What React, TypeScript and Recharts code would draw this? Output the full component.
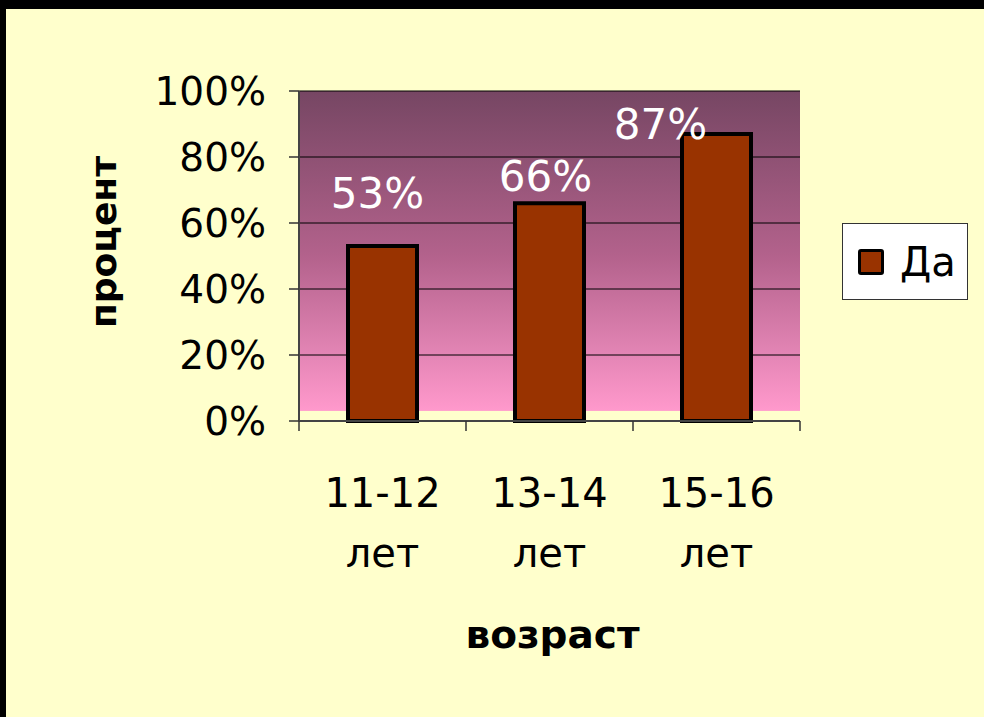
import { Bar, BarChart, CartesianGrid, Label, LabelList, Legend, XAxis, YAxis } from "recharts";

const ageGroups = ["11-12", "13-14", "15-16"];
const ageUnit = "лет";
const yesShare = [0.53, 0.66, 0.87];
const percentTicks = [0, 0.2, 0.4, 0.6, 0.8, 1];
const seriesName = "Да";
const yAxisTitle = "процент";
const xAxisTitle = "возраст";

const data = ageGroups.map((age, i) => ({ age, yes: yesShare[i] }));

const FONT = "'DejaVu Sans', Verdana, sans-serif";
const W = 984;
const H = 717;
const PLOT_LEFT = 299;
const PLOT_RIGHT = 800;
const PLOT_TOP = 91;
const PLOT_BOTTOM = 421;
const X_AXIS_H = 150;
const STEP = (PLOT_RIGHT - PLOT_LEFT) / ageGroups.length;

// Excel put the value labels a bit off, nudge them per bar
const labelDx = [-5, -4, -56];
const labelDy = [-53, -27, -9];

const pct = (v: number) => `${Math.round(v * 100)}%`;

const AgeTick = (props: any) => {
    const { x, y, payload, index } = props;
    const left = x - STEP / 2;
    const right = x + STEP / 2;
    return (
        <g>
            <line x1={left} y1={y} x2={left} y2={y + 10} stroke="#333" strokeWidth={1.5} />
            {index === ageGroups.length - 1 && (
                <line x1={right} y1={y} x2={right} y2={y + 10} stroke="#333" strokeWidth={1.5} />
            )}
            <text x={x} y={y + 86} textAnchor="middle" fontSize={40} fontFamily={FONT} fill="#000">
                {payload.value}
            </text>
            <text x={x} y={y + 146} textAnchor="middle" fontSize={40} fontFamily={FONT} fill="#000">
                {ageUnit}
            </text>
        </g>
    );
};

const ValueLabel = (props: any) => {
    const { x, y, width, value, index } = props;
    return (
        <text
            x={x + width / 2 + labelDx[index]}
            y={y + labelDy[index]}
            textAnchor="middle"
            dominantBaseline="central"
            fontSize={42}
            fontFamily={FONT}
            fill="#fff"
        >
            {pct(value)}
        </text>
    );
};

const LegendBox = () => (
    <div
        style={{
            width: "100%",
            height: "100%",
            boxSizing: "border-box",
            border: "1px solid #333",
            background: "#fff",
            display: "flex",
            alignItems: "center",
            paddingLeft: 15,
            fontFamily: FONT,
            fontSize: 40,
            color: "#000",
        }}
    >
        <div
            style={{
                width: 26,
                height: 26,
                boxSizing: "border-box",
                border: "3px solid #000",
                borderRadius: 3,
                background: "#993300",
                marginRight: 16,
            }}
        />
        <span style={{ lineHeight: 1 }}>{seriesName}</span>
    </div>
);

export default function App() {
    return (
        <div style={{ position: "absolute", left: 0, top: 0, width: W, height: H, background: "#000" }}>
            <div style={{ position: "absolute", left: 6, top: 9, right: 0, bottom: 0, background: "#FFFFCC" }} />
            <div style={{ position: "absolute", left: 0, top: 0 }}>
                <BarChart
                    width={W}
                    height={H}
                    data={data}
                    margin={{ top: PLOT_TOP, right: W - PLOT_RIGHT, bottom: H - PLOT_BOTTOM - X_AXIS_H, left: 0 }}
                >
                    <defs>
                        <linearGradient id="plotBg" x1="0" y1="0" x2="0" y2="1">
                            <stop offset="0" stopColor="#764663" />
                            <stop offset="0.5" stopColor="#B3628C" />
                            <stop offset="0.968" stopColor="#FF99CC" />
                            <stop offset="0.97" stopColor="#FFFFCC" />
                            <stop offset="1" stopColor="#FFFFCC" />
                        </linearGradient>
                    </defs>
                    <CartesianGrid vertical={false} stroke="#000" strokeWidth={1} fill="url(#plotBg)" fillOpacity={1} />
                    <XAxis
                        dataKey="age"
                        height={X_AXIS_H}
                        tickLine={false}
                        tickSize={0}
                        tickMargin={0}
                        axisLine={{ stroke: "#444", strokeWidth: 2 }}
                        tick={<AgeTick />}
                        interval={0}
                    >
                        <Label
                            content={({ viewBox }: any) => (
                                <text
                                    x={viewBox.x + viewBox.width / 2 + 3}
                                    y={viewBox.y + 227}
                                    textAnchor="middle"
                                    fontSize={39}
                                    fontWeight="bold"
                                    fontFamily={FONT}
                                    fill="#000"
                                >
                                    {xAxisTitle}
                                </text>
                            )}
                        />
                    </XAxis>
                    <XAxis xAxisId="top" orientation="top" height={0} tick={false} tickLine={false} axisLine={{ stroke: "#888", strokeWidth: 3 }} />
                    <YAxis
                        width={PLOT_LEFT}
                        domain={[0, 1]}
                        ticks={percentTicks}
                        tickFormatter={pct}
                        tickSize={10}
                        tickMargin={23}
                        interval={0}
                        axisLine={{ stroke: "#444", strokeWidth: 2 }}
                        tickLine={{ stroke: "#333", strokeWidth: 1.5 }}
                        tick={{ fontSize: 39, fontFamily: FONT, fill: "#000" }}
                    >
                        <Label
                            content={({ viewBox }: any) => {
                                const cx = viewBox.x + 103;
                                const cy = viewBox.y + viewBox.height / 2 - 14;
                                return (
                                    <text
                                        x={cx}
                                        y={cy}
                                        transform={`rotate(-90 ${cx} ${cy})`}
                                        textAnchor="middle"
                                        dominantBaseline="central"
                                        fontSize={36}
                                        fontWeight="bold"
                                        fontFamily={FONT}
                                        fill="#000"
                                    >
                                        {yAxisTitle}
                                    </text>
                                );
                            }}
                        />
                    </YAxis>
                    <YAxis yAxisId="right" orientation="right" width={0} domain={[0, 1]} tick={false} tickLine={false} axisLine={{ stroke: "#888", strokeWidth: 3 }} />
                    <Legend
                        layout="vertical"
                        align="center"
                        verticalAlign="middle"
                        wrapperStyle={{ left: 842, top: 223, width: 126, height: 77 }}
                        content={() => <LegendBox />}
                    />
                    <Bar dataKey="yes" name={seriesName} fill="#993300" stroke="#000" strokeWidth={4} barSize={69} isAnimationActive={false}>
                        <LabelList dataKey="yes" content={<ValueLabel />} />
                    </Bar>
                </BarChart>
            </div>
        </div>
    );
}
